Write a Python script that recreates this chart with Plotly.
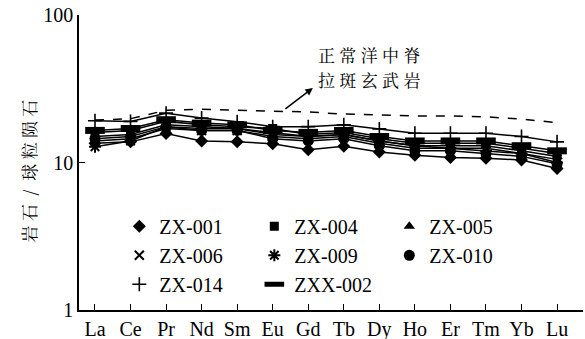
import plotly.graph_objects as go

elements = ["La", "Ce", "Pr", "Nd", "Sm", "Eu", "Gd", "Tb", "Dy", "Ho", "Er", "Tm", "Yb", "Lu"]

nmorb = [19.4, 19.8, 22.6, 23.0, 22.6, 22.4, 22.0, 21.3, 21.0, 20.7, 20.7, 20.4, 19.7, 18.6]

zx001 = [13.5, 13.8, 15.7, 14.0, 13.8, 13.4, 12.2, 12.9, 11.8, 11.2, 10.8, 10.7, 10.4, 9.1]
zx004 = [16.0, 16.5, 19.0, 18.0, 17.5, 17.0, 15.5, 16.0, 14.5, 13.5, 13.5, 13.5, 12.5, 11.5]
zx005 = [15.0, 15.5, 18.0, 17.5, 17.0, 15.5, 15.0, 15.5, 14.0, 13.0, 13.0, 13.0, 12.0, 11.0]
zx006 = [14.0, 14.5, 17.0, 16.5, 16.5, 15.0, 14.5, 15.0, 13.5, 12.5, 12.5, 12.5, 11.5, 10.5]
zx009 = [12.8, 14.0, 17.5, 17.0, 17.0, 16.0, 15.0, 15.5, 14.0, 13.0, 12.5, 12.0, 11.5, 10.0]
zx010 = [14.5, 15.0, 17.5, 16.5, 16.5, 14.5, 14.0, 14.5, 13.0, 12.0, 12.0, 11.5, 11.0, 9.8]
zx014 = [19.2, 19.0, 21.6, 20.0, 18.9, 17.5, 17.5, 18.0, 16.9, 15.8, 15.8, 15.8, 15.0, 13.8]
zxx002 = [16.5, 17.0, 19.5, 18.5, 18.0, 16.5, 16.0, 16.5, 15.0, 14.0, 14.0, 14.0, 13.0, 12.0]

note_lines = ["正 常 洋 中 脊", "拉 斑 玄 武 岩"]

samples = [
    ("ZX-001", zx001, dict(symbol="diamond", size=10)),
    ("ZX-004", zx004, dict(symbol="square", size=9)),
    ("ZX-005", zx005, dict(symbol="triangle-up", size=10)),
    ("ZX-006", zx006, dict(symbol="x-thin-open", size=9, line=dict(width=2, color="black"))),
    ("ZX-009", zx009, dict(symbol="asterisk-open", size=10, line=dict(width=2, color="black"))),
    ("ZX-010", zx010, dict(symbol="circle", size=11)),
    ("ZX-014", zx014, dict(symbol="cross-thin-open", size=10, line=dict(width=1.6, color="black"))),
    ("ZXX-002", zxx002, dict(symbol="line-ew-open", size=14, line=dict(width=7, color="black"))),
]

x = list(range(len(elements)))
fig = go.Figure()

fig.add_trace(go.Scatter(x=x, y=nmorb, mode="lines", showlegend=False,
                         line=dict(color="black", width=1.5, dash="dash")))

for name, vals, mk in samples:
    fig.add_trace(go.Scatter(x=x, y=vals, mode="lines", showlegend=False,
                             line=dict(color="black", width=1.5)))
for name, vals, mk in samples:
    m = dict(color="black")
    m.update(mk)
    fig.add_trace(go.Scatter(x=x, y=vals, mode="markers", name=name, marker=m))

serif = "Liberation Serif"
cjk = "Noto Serif CJK SC"

fig.update_layout(
    template="none",
    width=585, height=339,
    margin=dict(l=79, r=2, t=15, b=29),
    plot_bgcolor="white", paper_bgcolor="white",
    font=dict(family=serif, size=20, color="black"),
    showlegend=True,
    legend=dict(orientation="h", x=0.08, y=0.35, xanchor="left", yanchor="top",
                entrywidth=90, font=dict(family=serif, size=20, color="black"),
                bgcolor="rgba(0,0,0,0)", itemclick=False),
    xaxis=dict(range=[-0.45, 13.73], tickmode="array", tickvals=x, ticktext=elements,
               ticks="inside", ticklen=6, tickwidth=1.2, tickcolor="black",
               showline=True, linecolor="black", linewidth=1.5,
               showgrid=False, zeroline=False,
               tickfont=dict(family=serif, size=20, color="black")),
    yaxis=dict(type="log", range=[0, 2], tickmode="array", tickvals=[1, 10, 100],
               ticktext=["1", "10", "100"],
               ticks="inside", ticklen=6, tickwidth=1.2, tickcolor="black",
               showline=True, linecolor="black", linewidth=1.5,
               showgrid=False, zeroline=False,
               tickfont=dict(family=serif, size=20, color="black")),
)

fig.add_annotation(xref="paper", yref="paper", x=-0.101, y=0.47,
                   text="岩 石  /  球 粒 陨 石", textangle=-90, showarrow=False,
                   font=dict(family=cjk, size=17, color="black"),
                   xanchor="center", yanchor="middle")

for yy, line in zip([1.729, 1.562], note_lines):
    fig.add_annotation(x=7.71, y=yy, xref="x", yref="y", text=line, showarrow=False,
                       font=dict(family=cjk, size=17, color="black"),
                       xanchor="center", yanchor="middle")

fig.add_annotation(x=6.13, y=1.505, xref="x", yref="y", text="",
                   showarrow=True, arrowhead=2, arrowsize=1, arrowwidth=1.5,
                   arrowcolor="black", ax=-29, ay=22)

fig.write_html("out.html")
